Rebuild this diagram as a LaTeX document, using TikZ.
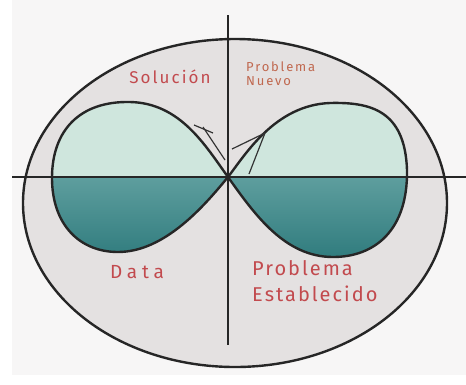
\documentclass[tikz,border=0pt]{standalone}
\usepackage{fontspec}
\setsansfont{Fira Sans}
\usetikzlibrary{calc}
\definecolor{pagebg}{HTML}{F7F6F6}
\definecolor{ellbg}{HTML}{E4E1E1}
\definecolor{mint}{HTML}{CFE6DD}
\definecolor{tealA}{HTML}{5E9E9E}
\definecolor{tealB}{HTML}{2F7B7D}
\definecolor{hand}{HTML}{C24A4E}
\definecolor{handB}{HTML}{C0684F}
\tikzset{
  heavy/.style={line width=2.4pt, black!85},
  axis/.style={line width=1.4pt, black!85},
  thin/.style={line width=1.2pt, black!80},
  lbl/.style={text=hand, inner sep=0pt},
}
\newcommand{\handfont}[2]{\sffamily\fontseries{l}\selectfont\addfontfeatures{LetterSpace=#2}\fontsize{#1}{#1}\selectfont}
\begin{document}
\begin{tikzpicture}[x=1pt,y=-1pt]
\useasboundingbox (0,0) rectangle (466,384);
\fill[white] (0,0) rectangle (466,384);
\fill[pagebg] (12,0) rectangle (466,375);
% ellipse
\coordinate (E) at (235,203);
\fill[ellbg] (E) ellipse [x radius=212, y radius=164];
% infinity shape
\coordinate (C) at (228,177);
\def\infpath{(C) .. controls (205,145) and (180,103) .. (130,102)
  .. controls (80,101) and (52,130) .. (52,178)
  .. controls (52,225) and (80,252) .. (118,252)
  .. controls (165,252) and (205,205) .. (C)
  .. controls (255,215) and (285,257) .. (333,257)
  .. controls (375,257) and (408,230) .. (407,170)
  .. controls (405,110) and (370,102) .. (330,103)
  .. controls (275,105) and (245,155) .. (C)}
\begin{scope}
  \clip \infpath;
  \fill[mint] (0,0) rectangle (466,177);
  \shade[top color=tealA, bottom color=tealB] (0,177) rectangle (466,260);
\end{scope}
% axes
\coordinate (hl) at (12,177);
\coordinate (hr) at (466,177);
\coordinate (vt) at (228,15);
\coordinate (vb) at (228,345);
\draw[axis] (hl) -- (hr);
\draw[axis] (vt) -- (vb);
% outlines
\draw[heavy] (E) ellipse [x radius=212, y radius=164];
\draw[heavy, line join=round] \infpath;
% arrow strokes
\coordinate (at) at (265,133);
\coordinate (ab1) at (232,149);
\coordinate (ab2) at (249,174);
\draw[thin, line join=round] (ab1) -- (at) -- (ab2);
\coordinate (lb1) at (194,125);
\coordinate (lb2) at (213,133);
\coordinate (lb3) at (203,127);
\coordinate (lb4) at (225,160);
\draw[thin] (lb1) -- (lb2);
\draw[thin] (lb3) -- (lb4);
% labels
\node[lbl, font=\handfont{17}{12}] (sol) at (170,77) {Solución};
\node[lbl, text=handB, align=left, anchor=north west, font=\handfont{13}{14}] (pn) at (246,62) {Problema\\[1pt]Nuevo};
\node[lbl, font=\handfont{19}{25}] (dat) at (137,272) {Data};
\node[lbl, align=left, anchor=north west, font=\handfont{20}{10}] (pe) at (252,260) {Problema\\[6pt]Establecido};
\end{tikzpicture}
\end{document}
